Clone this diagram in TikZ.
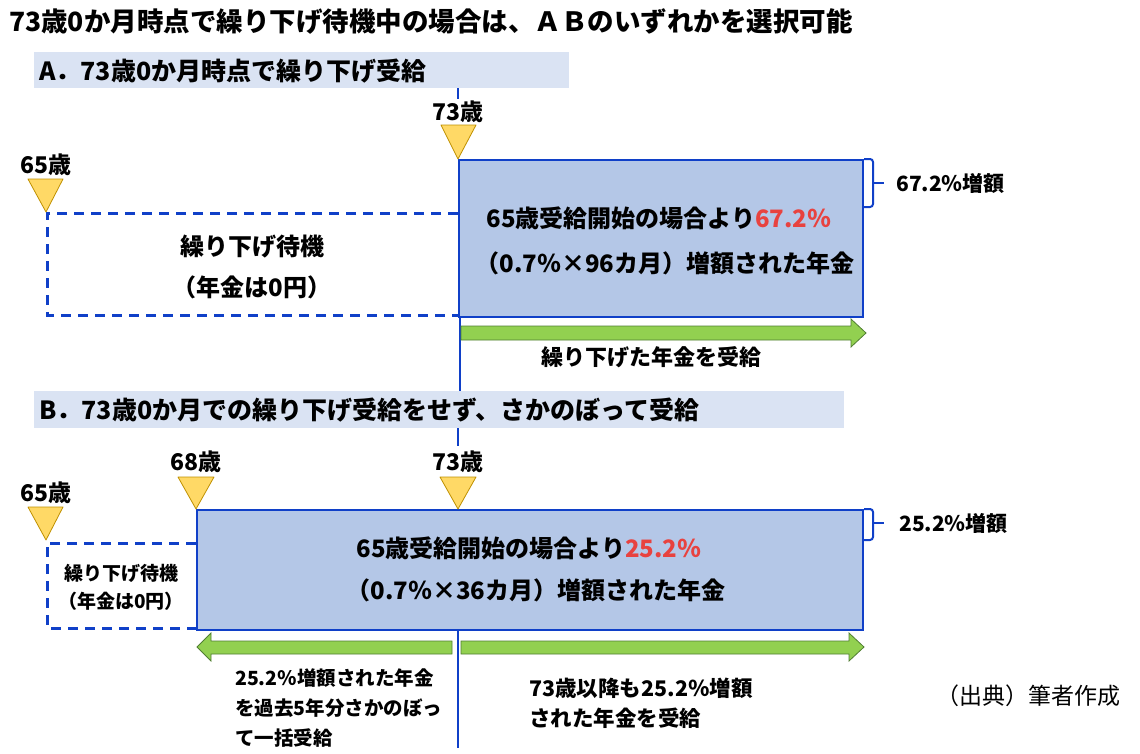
\documentclass[tikz,border=0pt]{standalone}
\usepackage{fontspec}
\setmainfont{Noto Sans CJK JP}
\newcommand\myfs[1]{\fontsize{#1}{#1}\selectfont}
\definecolor{bandblue}{RGB}{218,227,243}
\definecolor{boxfill}{RGB}{180,199,231}
\definecolor{lblue}{RGB}{16,64,200}
\definecolor{trifill}{RGB}{255,217,102}
\definecolor{triedge}{RGB}{191,144,0}
\definecolor{gfill}{RGB}{146,208,80}
\definecolor{gedge}{RGB}{80,126,50}
\definecolor{pred}{RGB}{232,66,63}
\tikzset{
  band/.style={fill=bandblue, draw=none, inner sep=0pt, anchor=north west},
  pbox/.style={fill=boxfill, draw=lblue, line width=2pt, inner sep=0pt, anchor=north west},
  dbox/.style={draw=lblue, line width=3pt, dash pattern=on 10pt off 7pt},
  tri/.style={fill=trifill, draw=triedge, line width=0.8pt, line join=round},
  garrow/.style={fill=gfill, draw=gedge, line width=0.8pt, line join=miter},
  vline/.style={draw=lblue, line width=2pt},
  brace/.style={draw=lblue, line width=2pt, rounded corners=3pt},
  txt/.style={inner sep=0pt, font=\bfseries},
}
\begin{document}
\begin{tikzpicture}[x=1pt,y=-1pt]
\useasboundingbox (0,0) rectangle (1140,753);
% title
\node[txt, anchor=west, font=\bfseries\myfs{26.5}] (title) at (9,21) {73歳0か月時点で繰り下げ待機中の場合は、ＡＢのいずれかを選択可能};
% ===== A =====
\node[band, minimum width=535pt, minimum height=36pt] (hA) at (34,52) {};
\node[txt, anchor=west, font=\bfseries\myfs{25}] (hAt) at (39,71) {A．73歳0か月時点で繰り下げ受給};
\node[pbox, minimum width=404pt, minimum height=157pt] (boxA) at (458,159) {};
\draw[dbox] (458,213) -- (47,213) -- (47,315) -- (458,315);
\node[txt, font=\bfseries\myfs{24}] (waitA1) at (252,247) {繰り下げ待機};
\node[txt, font=\bfseries\myfs{24}] (waitA2) at (252,287) {（年金は0円）};
\node[txt, font=\bfseries\myfs{24}] (boxA1) at (659,218) {65歳受給開始の場合より{\color{pred}67.2％}};
\node[txt, font=\bfseries\myfs{24}] (boxA2) at (665,263) {（0.7％×96カ月）増額された年金};
% triangles and labels A
\node[txt, font=\bfseries\myfs{23}] (a73) at (458,112) {73歳};
\path[tri] (441,125) -- (476,125) -- (458,159) -- cycle;
\node[txt, font=\bfseries\myfs{23}] (a65) at (46,165) {65歳};
\path[tri] (28,179) -- (63,179) -- (46,212) -- cycle;
% brace A
\draw[brace] (boxA.north east) -- (873,159) -- (873,207) -- (863,207);
\draw[vline] (873,183) -- (884,183);
\node[txt, anchor=west, font=\bfseries\myfs{21}] (incA) at (896,183) {67.2％増額};
% vertical lines A
\coordinate (vA1) at (458,88);
\coordinate (vA2) at (458,99);
\draw[vline] (vA1) -- (vA2);
\coordinate (vA3) at (460,316);
\coordinate (vA4) at (460,391);
\draw[vline] (vA3) -- (vA4);
% green arrow A
\path[garrow] (461,326) -- (851,326) -- (851,319) -- (866,333) -- (851,347) -- (851,340) -- (461,340) -- cycle;
\node[txt, font=\bfseries\myfs{22}] (recvA) at (651,357) {繰り下げた年金を受給};
% ===== B =====
\node[band, minimum width=810pt, minimum height=37pt] (hB) at (34,391) {};
\node[txt, anchor=west, font=\bfseries\myfs{25}] (hBt) at (39,410) {B．73歳0か月での繰り下げ受給をせず、さかのぼって受給};
\coordinate (vB1) at (458,428);
\coordinate (vB2) at (458,446);
\draw[vline] (vB1) -- (vB2);
\draw[dbox] (196,543) -- (47,543) -- (47,628) -- (196,628);
\node[pbox, minimum width=666pt, minimum height=120pt] (boxB) at (196,509) {};
\node[txt, font=\bfseries\myfs{19}] (waitB1) at (121,573) {繰り下げ待機};
\node[txt, font=\bfseries\myfs{19}] (waitB2) at (121,601) {（年金は0円）};
\node[txt, font=\bfseries\myfs{24}] (boxB1) at (529,548) {65歳受給開始の場合より{\color{pred}25.2％}};
\node[txt, font=\bfseries\myfs{24}] (boxB2) at (536,590) {（0.7％×36カ月）増額された年金};
% triangles B
\node[txt, font=\bfseries\myfs{23}] (b68) at (196,462) {68歳};
\path[tri] (178,477) -- (214,477) -- (196,509) -- cycle;
\node[txt, font=\bfseries\myfs{23}] (b73) at (458,462) {73歳};
\path[tri] (440,477) -- (476,477) -- (458,509) -- cycle;
\node[txt, font=\bfseries\myfs{23}] (b65) at (46,493) {65歳};
\path[tri] (28,507) -- (63,507) -- (46,540) -- cycle;
% brace B
\draw[brace] (boxB.north east) -- (873,509) -- (873,540) -- (863,540);
\draw[vline] (873,523) -- (884,523);
\node[txt, anchor=west, font=\bfseries\myfs{21}] (incB) at (899,523) {25.2％増額};
% vertical line B
\coordinate (vB3) at (458,629);
\coordinate (vB4) at (458,748);
\draw[vline] (vB3) -- (vB4);
% green arrows B
\path[garrow] (461,641) -- (849,641) -- (849,633) -- (864,647) -- (849,661) -- (849,654) -- (461,654) -- cycle;
\path[garrow] (452,641) -- (211,641) -- (211,633) -- (197,647) -- (211,661) -- (211,654) -- (452,654) -- cycle;
\node[txt, anchor=west, font=\bfseries\myfs{19.5}] (backB1) at (235,678) {25.2％増額された年金};
\node[txt, anchor=west, font=\bfseries\myfs{19.5}] (backB2) at (235,708) {を過去5年分さかのぼっ};
\node[txt, anchor=west, font=\bfseries\myfs{19.5}] (backB3) at (235,738) {て一括受給};
\node[txt, anchor=west, font=\bfseries\myfs{21.5}] (afterB1) at (529,688) {73歳以降も25.2％増額};
\node[txt, anchor=west, font=\bfseries\myfs{21.5}] (afterB2) at (529,718) {された年金を受給};
\node[inner sep=0pt, anchor=west, font=\myfs{23}] (src) at (936,696) {（出典）筆者作成};
\end{tikzpicture}
\end{document}
